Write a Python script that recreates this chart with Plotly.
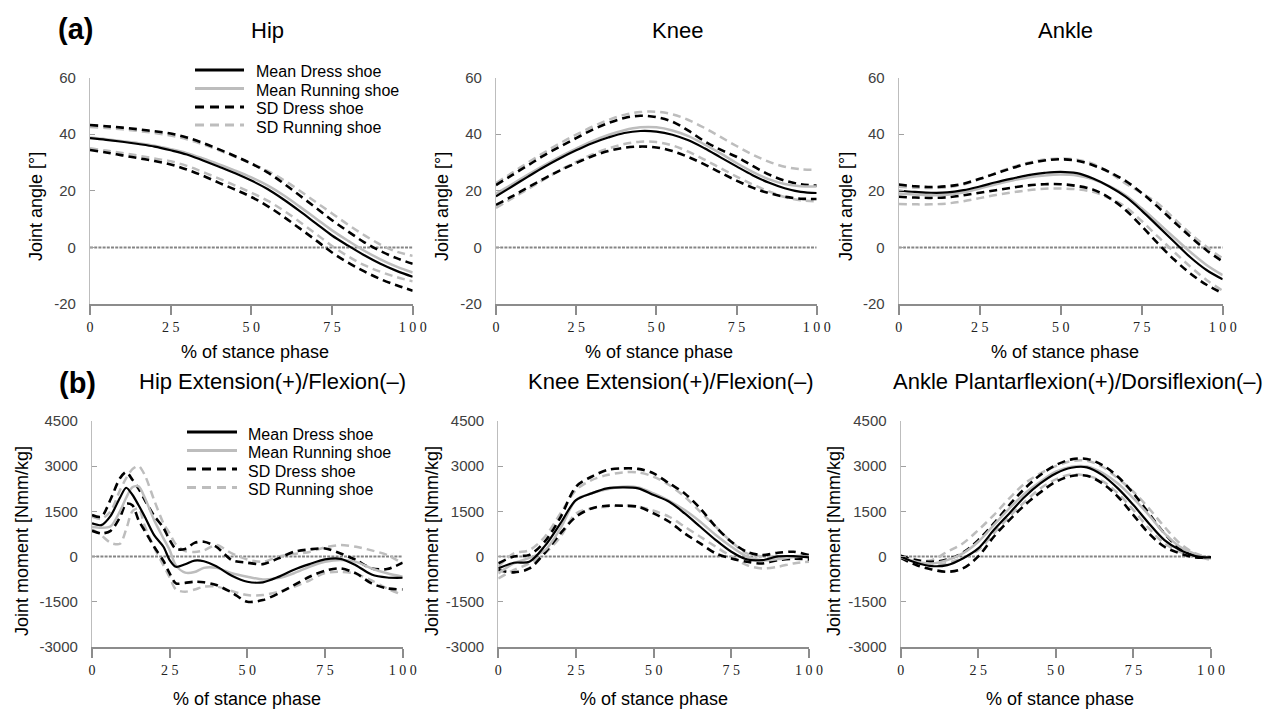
import plotly.graph_objects as go

# ---------------- data ----------------
X5 = [0, 5, 10, 15, 20, 25, 30, 35, 40, 45, 50, 55, 60, 65, 70, 75, 80, 85, 90, 95, 100]
X_HIP_M = [0, 3, 6, 9, 11, 13, 15, 17, 20, 23, 25, 27, 30, 33, 36, 40, 45, 50, 55, 60, 65, 70, 75, 80, 85, 90, 95, 100]

X_TICKS = [0, 25, 50, 75, 100]
X_TICK_TEXT = ["0", "2 5", "5 0", "7 5", "1 0 0"]
ANG_TICKS = [-20, 0, 20, 40, 60]
ANG_TICK_TEXT = ["-20", "0", "20", "40", "60"]
MOM_TICKS = [-3000, -1500, 0, 1500, 3000, 4500]
MOM_TICK_TEXT = ["-3000", "-1500", "0", "1500", "3000", "4500"]

# Hip joint angle
HIP_ANG_MEAN_DRESS = [38.6, 38.0, 37.3, 36.5, 35.6, 34.3, 32.8, 30.7, 28.5, 26.2, 23.6, 20.6, 16.9, 12.8, 8.5, 4.2, 0.6, -2.8, -5.8, -8.3, -10.4]
HIP_ANG_MEAN_RUN = [38.8, 38.2, 37.5, 36.8, 35.9, 34.7, 33.3, 31.4, 29.3, 27.1, 24.7, 21.9, 18.4, 14.4, 10.2, 6.0, 2.3, -1.2, -4.2, -6.8, -8.9]
HIP_ANG_SD_DRESS_U = [43.2, 42.8, 42.3, 41.7, 41.0, 40.2, 38.8, 36.9, 34.6, 32.2, 29.6, 26.5, 22.6, 18.3, 14.0, 9.6, 5.6, 1.8, -1.3, -3.8, -5.8]
HIP_ANG_SD_DRESS_L = [34.4, 33.5, 32.5, 31.5, 30.5, 29.3, 27.5, 25.3, 22.8, 20.4, 17.8, 14.6, 10.8, 6.7, 2.5, -1.8, -5.4, -8.5, -11.2, -13.4, -15.3]
HIP_ANG_SD_RUN_U = [42.5, 42.2, 41.7, 41.1, 40.4, 39.5, 38.2, 36.4, 34.3, 32.0, 29.6, 27.0, 23.8, 20.0, 16.0, 12.0, 8.0, 4.3, 1.0, -1.5, -3.0]
HIP_ANG_SD_RUN_L = [35.0, 34.2, 33.3, 32.4, 31.4, 30.4, 28.8, 26.6, 24.3, 21.8, 19.3, 16.5, 13.0, 9.0, 4.8, 0.5, -3.2, -6.3, -8.6, -10.5, -12.0]

# Knee joint angle
KNEE_ANG_MEAN_DRESS = [18.0, 21.5, 25.0, 28.4, 31.5, 34.3, 36.8, 38.8, 40.4, 41.1, 40.9, 39.8, 37.8, 35.0, 31.8, 28.6, 25.5, 22.9, 20.9, 19.6, 19.2]
KNEE_ANG_MEAN_RUN = [19.0, 22.3, 25.7, 29.0, 32.1, 34.9, 37.5, 39.7, 41.4, 42.4, 42.4, 41.3, 39.3, 36.4, 33.2, 29.8, 26.7, 24.1, 22.4, 21.6, 21.5]
KNEE_ANG_SD_DRESS_U = [22.0, 25.5, 29.0, 32.5, 35.6, 38.6, 41.5, 43.9, 45.7, 46.5, 46.0, 44.4, 41.2, 37.5, 34.5, 32.0, 28.8, 25.8, 23.6, 22.3, 21.8]
KNEE_ANG_SD_DRESS_L = [15.0, 18.0, 21.2, 24.3, 27.2, 29.8, 32.2, 34.0, 35.2, 35.6, 35.3, 34.0, 31.9, 29.3, 26.4, 23.6, 21.1, 19.2, 17.9, 17.2, 17.1]
KNEE_ANG_SD_RUN_U = [22.7, 26.3, 30.0, 33.5, 36.8, 39.8, 42.6, 45.0, 46.8, 47.8, 47.9, 47.0, 45.0, 42.2, 39.0, 35.8, 32.8, 30.3, 28.5, 27.6, 27.4]
KNEE_ANG_SD_RUN_L = [13.9, 17.3, 20.6, 24.0, 27.3, 30.2, 32.8, 34.9, 36.5, 37.3, 37.2, 36.0, 33.8, 31.0, 28.0, 25.0, 22.2, 19.8, 17.8, 16.6, 16.3]

# Ankle joint angle
ANK_ANG_MEAN_DRESS = [20.0, 19.6, 19.3, 19.4, 20.2, 21.5, 23.0, 24.3, 25.5, 26.3, 26.7, 26.2, 24.3, 21.5, 17.9, 13.0, 7.5, 2.0, -3.5, -8.0, -11.3]
ANK_ANG_MEAN_RUN = [19.0, 18.7, 18.4, 18.6, 19.4, 20.8, 22.3, 23.6, 24.7, 25.4, 25.7, 25.4, 24.0, 21.6, 18.4, 13.8, 8.7, 3.5, -1.6, -6.2, -9.8]
ANK_ANG_SD_DRESS_U = [22.2, 21.6, 21.3, 21.6, 22.5, 24.2, 26.1, 28.0, 29.6, 30.7, 31.1, 30.6, 29.0, 26.6, 23.5, 19.2, 14.3, 9.0, 3.8, -1.0, -5.0]
ANK_ANG_SD_DRESS_L = [17.9, 17.6, 17.5, 17.7, 18.4, 19.3, 20.2, 21.1, 21.9, 22.3, 22.3, 21.7, 20.4, 17.5, 13.2, 7.5, 1.4, -4.3, -9.2, -13.2, -16.2]
ANK_ANG_SD_RUN_U = [21.4, 21.1, 21.0, 21.2, 22.2, 24.1, 26.3, 28.3, 29.9, 31.0, 31.4, 31.0, 29.5, 26.5, 22.6, 19.2, 15.5, 10.2, 4.9, 0.2, -3.9]
ANK_ANG_SD_RUN_L = [15.3, 15.2, 15.2, 15.5, 16.3, 17.4, 18.5, 19.4, 20.2, 20.7, 20.8, 20.5, 19.6, 17.4, 14.3, 9.3, 3.8, -1.6, -6.8, -11.5, -15.3]

# Hip joint moment
HIP_MOM_MEAN_DRESS = [1097, 1041, 1350, 1950, 2282, 2050, 1700, 1318, 709, 321, -122, -343, -260, -140, -160, -330, -640, -842, -860, -680, -440, -255, -100, -80, -300, -600, -700, -709]
HIP_MOM_MEAN_RUN = [986, 950, 1000, 1500, 1950, 2300, 2330, 1950, 1207, 600, 210, -300, -540, -520, -380, -380, -560, -676, -764, -720, -560, -343, -180, -120, -180, -400, -560, -676]
HIP_MOM_SD_DRESS_U = [1374, 1318, 1900, 2600, 2800, 2550, 2250, 1872, 1350, 950, 543, 250, 250, 450, 487, 321, -122, -210, -255, -66, 155, 233, 266, 100, -122, -399, -420, -210]
HIP_MOM_SD_DRESS_L = [853, 764, 850, 1300, 1750, 1700, 1200, 850, 321, -150, -565, -897, -880, -842, -860, -950, -1200, -1507, -1451, -1230, -953, -676, -476, -399, -565, -897, -1063, -1097]
HIP_MOM_SD_RUN_U = [1318, 1250, 1500, 2200, 2600, 2900, 3002, 2700, 1872, 1100, 764, 400, 180, 150, 200, 377, 100, -100, -180, 0, 80, 150, 300, 377, 321, 200, 50, -233]
HIP_MOM_SD_RUN_L = [900, 700, 450, 420, 900, 1500, 1600, 1000, 300, -300, -700, -1100, -1174, -1100, -1008, -1000, -1150, -1285, -1285, -1174, -1008, -800, -550, -510, -580, -800, -1063, -1285]

# Knee joint moment
KNEE_MOM_MEAN_DRESS = [-399, -210, -177, 350, 1097, 1872, 2094, 2260, 2293, 2260, 2038, 1817, 1429, 986, 543, 155, -100, -122, 0, 10, -33]
KNEE_MOM_MEAN_RUN = [-565, -230, -50, 200, 930, 1872, 2094, 2230, 2315, 2290, 2094, 1850, 1540, 1152, 709, 321, 0, -130, -90, -20, 0]
KNEE_MOM_SD_DRESS_U = [-233, 0, 50, 500, 1300, 2315, 2648, 2869, 2925, 2910, 2758, 2426, 2094, 1595, 986, 487, 155, 44, 122, 155, 44]
KNEE_MOM_SD_DRESS_L = [-454, -530, -400, 120, 764, 1318, 1595, 1684, 1684, 1651, 1429, 1152, 764, 432, 100, -66, -177, -233, -122, -80, -100]
KNEE_MOM_SD_RUN_U = [-343, 100, 210, 654, 1429, 2204, 2537, 2703, 2792, 2792, 2648, 2371, 1983, 1484, 986, 487, 100, 0, -20, 0, 44]
KNEE_MOM_SD_RUN_L = [-731, -450, -233, 100, 654, 1429, 1595, 1651, 1700, 1651, 1518, 1318, 986, 654, 321, 0, -288, -399, -343, -233, -177]

# Ankle joint moment
ANK_MOM_MEAN_DRESS = [0, -210, -321, -288, -66, 266, 875, 1429, 1983, 2426, 2758, 2947, 2960, 2703, 2260, 1706, 1097, 543, 210, 11, -33]
ANK_MOM_MEAN_RUN = [-20, -177, -233, -122, 100, 487, 1041, 1595, 2094, 2481, 2814, 2980, 2990, 2781, 2426, 1928, 1374, 764, 321, 78, -66]
ANK_MOM_SD_DRESS_U = [20, -122, -177, -100, 122, 543, 1097, 1706, 2260, 2703, 3035, 3224, 3240, 3035, 2648, 2094, 1429, 764, 266, 20, -30]
ANK_MOM_SD_DRESS_L = [-44, -288, -432, -510, -400, 0, 654, 1207, 1706, 2127, 2481, 2670, 2680, 2426, 1983, 1374, 764, 321, 100, -33, -30]
ANK_MOM_SD_RUN_U = [-20, -122, -122, 155, 432, 875, 1374, 1928, 2426, 2758, 3002, 3168, 3180, 2980, 2592, 2149, 1595, 986, 432, 100, -50]
ANK_MOM_SD_RUN_L = [-20, -220, -288, -220, -50, 210, 764, 1318, 1817, 2260, 2559, 2725, 2680, 2500, 2094, 1540, 930, 432, 155, 0, -122]

SERIES_NAMES = ["Mean Dress shoe", "Mean Running shoe", "SD Dress shoe", "SD Running shoe"]

# ---------------- layout helpers ----------------
W, H = 1284, 711
SANS = "Liberation Sans, Arial, sans-serif"


def px(v):
    return v / W


def py(v):
    return 1 - v / H


BLACK = "#000000"
GREY = "#bdbdbd"
DASH = "8px,5px"

panels = [
    dict(x=X5, s=[HIP_ANG_MEAN_DRESS, HIP_ANG_MEAN_RUN, HIP_ANG_SD_DRESS_U, HIP_ANG_SD_DRESS_L, HIP_ANG_SD_RUN_U, HIP_ANG_SD_RUN_L],
         xd=(90, 412.7), yd=(77.5, 304), yr=[-20, 60], yt=ANG_TICKS, ytt=ANG_TICK_TEXT, sm=1.0),
    dict(x=X5, s=[KNEE_ANG_MEAN_DRESS, KNEE_ANG_MEAN_RUN, KNEE_ANG_SD_DRESS_U, KNEE_ANG_SD_DRESS_L, KNEE_ANG_SD_RUN_U, KNEE_ANG_SD_RUN_L],
         xd=(496, 816.7), yd=(77.5, 304), yr=[-20, 60], yt=ANG_TICKS, ytt=ANG_TICK_TEXT, sm=1.0),
    dict(x=X5, s=[ANK_ANG_MEAN_DRESS, ANK_ANG_MEAN_RUN, ANK_ANG_SD_DRESS_U, ANK_ANG_SD_DRESS_L, ANK_ANG_SD_RUN_U, ANK_ANG_SD_RUN_L],
         xd=(898.7, 1222.7), yd=(77.5, 304), yr=[-20, 60], yt=ANG_TICKS, ytt=ANG_TICK_TEXT, sm=1.0),
    dict(x=X_HIP_M, s=[HIP_MOM_MEAN_DRESS, HIP_MOM_MEAN_RUN, HIP_MOM_SD_DRESS_U, HIP_MOM_SD_DRESS_L, HIP_MOM_SD_RUN_U, HIP_MOM_SD_RUN_L],
         xd=(92, 402.7), yd=(421, 646.7), yr=[-3000, 4500], yt=MOM_TICKS, ytt=MOM_TICK_TEXT, sm=0.8),
    dict(x=X5, s=[KNEE_MOM_MEAN_DRESS, KNEE_MOM_MEAN_RUN, KNEE_MOM_SD_DRESS_U, KNEE_MOM_SD_DRESS_L, KNEE_MOM_SD_RUN_U, KNEE_MOM_SD_RUN_L],
         xd=(498.3, 809), yd=(421, 646.7), yr=[-3000, 4500], yt=MOM_TICKS, ytt=MOM_TICK_TEXT, sm=0.9),
    dict(x=X5, s=[ANK_MOM_MEAN_DRESS, ANK_MOM_MEAN_RUN, ANK_MOM_SD_DRESS_U, ANK_MOM_SD_DRESS_L, ANK_MOM_SD_RUN_U, ANK_MOM_SD_RUN_L],
         xd=(900.7, 1211), yd=(421, 646.7), yr=[-3000, 4500], yt=MOM_TICKS, ytt=MOM_TICK_TEXT, sm=1.0),
]

fig = go.Figure()
layout = {}

for i, p in enumerate(panels, start=1):
    xa = "x" if i == 1 else f"x{i}"
    ya = "y" if i == 1 else f"y{i}"
    x = p["x"]
    md, mr, du, dl, ru, rl = p["s"]
    line_kw = dict(shape="spline", smoothing=p["sm"])
    # zero reference line
    fig.add_trace(go.Scatter(x=[0, 100], y=[0, 0], mode="lines", xaxis=xa, yaxis=ya, showlegend=False,
                             hoverinfo="skip", line=dict(color="#858585", width=2, dash="3px,1.2px")))
    for yy in (ru, rl):
        fig.add_trace(go.Scatter(x=x, y=yy, mode="lines", xaxis=xa, yaxis=ya, name=SERIES_NAMES[3], showlegend=False,
                                 line=dict(color=GREY, width=2.5, dash=DASH, **line_kw)))
    for yy in (du, dl):
        fig.add_trace(go.Scatter(x=x, y=yy, mode="lines", xaxis=xa, yaxis=ya, name=SERIES_NAMES[2], showlegend=False,
                                 line=dict(color=BLACK, width=2.6, dash=DASH, **line_kw)))
    fig.add_trace(go.Scatter(x=x, y=mr, mode="lines", xaxis=xa, yaxis=ya, name=SERIES_NAMES[1], showlegend=False,
                             line=dict(color=GREY, width=2.5, **line_kw)))
    fig.add_trace(go.Scatter(x=x, y=md, mode="lines", xaxis=xa, yaxis=ya, name=SERIES_NAMES[0], showlegend=False,
                             line=dict(color=BLACK, width=2.2, **line_kw)))

    kx = "xaxis" if i == 1 else f"xaxis{i}"
    ky = "yaxis" if i == 1 else f"yaxis{i}"
    layout[kx] = dict(domain=[px(p["xd"][0]), px(p["xd"][1])], range=[0, 100], anchor=ya,
                      tickmode="array", tickvals=X_TICKS, ticktext=X_TICK_TEXT,
                      showline=True, linecolor="#8c8c8c", linewidth=2, mirror=False,
                      ticks="outside", ticklen=9, tickwidth=2, tickcolor="#8c8c8c",
                      showgrid=False, zeroline=False, automargin=False,
                      tickfont=dict(family="Liberation Serif, serif", size=14, color="#222"))
    layout[ky] = dict(domain=[py(p["yd"][1]), py(p["yd"][0])], range=p["yr"], anchor=xa,
                      tickmode="array", tickvals=p["yt"], ticktext=p["ytt"],
                      showline=True, linecolor="#bdbdbd", linewidth=1.2,
                      ticks="inside", ticklen=5, tickwidth=1, tickcolor="#a0a0a0",
                      showgrid=False, zeroline=False, ticklabelstandoff=10, automargin=False,
                      tickfont=dict(family=SANS, size=15, color="#404040"))

annotations = []


def ann(text, x, y, size, angle=0, bold=False, xanchor="center"):
    annotations.append(dict(text=f"<b>{text}</b>" if bold else text, x=px(x), y=py(y), xref="paper", yref="paper",
                            showarrow=False, textangle=angle, xanchor=xanchor, yanchor="middle",
                            font=dict(family=SANS, size=size, color="#000")))


# panel labels and titles
ann("(a)", 75, 29, 29, bold=True)
ann("(b)", 77, 383, 29, bold=True)
ann("Hip", 267, 31, 22)
ann("Knee", 677, 31, 22)
ann("Ankle", 1065, 31, 22)
ann("Hip Extension(+)/Flexion(–)", 272, 382, 22)
ann("Knee Extension(+)/Flexion(–)", 671, 382, 22)
ann("Ankle Plantarflexion(+)/Dorsiflexion(–)", 1078, 382, 22)

# axis titles
for xc in (255, 659, 1065):
    ann("% of stance phase", xc, 352, 18)
for xc in (247, 654, 1060):
    ann("% of stance phase", xc, 699, 18)
for xc in (36, 442, 846):
    ann("Joint angle [°]", xc, 207, 18, angle=-90)
for xc in (22, 432, 834):
    ann("Joint moment [Nmm/kg]", xc, 541, 18, angle=-90)

# manual legends (top-left of the two hip panels)
shapes = []
leg_styles = [(BLACK, "solid"), (GREY, "solid"), (BLACK, "9px,6px"), (GREY, "9px,6px")]
for (x0, x1, tx, ys) in [(195, 244, 254, [70, 88.5, 107, 125]), (187, 237, 246, [432, 450.5, 469, 487.5])]:
    for k, (col, dash) in enumerate(leg_styles):
        shapes.append(dict(type="line", xref="paper", yref="paper", x0=px(x0), x1=px(x1), y0=py(ys[k]), y1=py(ys[k]),
                           line=dict(color=col, width=3, dash=dash)))
        ann(SERIES_NAMES[k], tx, ys[k] + 2, 16, xanchor="left")

fig.update_layout(width=W, height=H, margin=dict(l=0, r=0, t=0, b=0, autoexpand=False), paper_bgcolor="white",
                  plot_bgcolor="white", showlegend=False, annotations=annotations, shapes=shapes, **layout)

fig.write_html("out.html", config={"displayModeBar": False},
               post_script="document.body.style.margin='0';document.body.style.overflow='hidden';")
